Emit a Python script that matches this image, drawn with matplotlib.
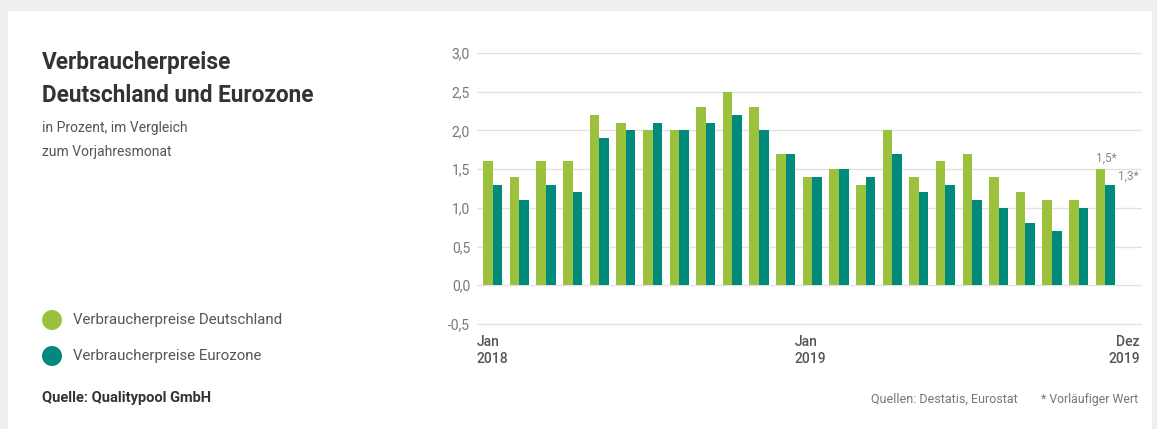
import matplotlib.pyplot as plt
import numpy as np
from matplotlib.patches import Rectangle, Ellipse

plt.rcParams['font.family'] = ['Roboto', 'DejaVu Sans']

# Verbraucherpreise, Veraenderung zum Vorjahresmonat in %
monate = ['Jan 2018', 'Feb 2018', 'Mrz 2018', 'Apr 2018', 'Mai 2018', 'Jun 2018',
          'Jul 2018', 'Aug 2018', 'Sep 2018', 'Okt 2018', 'Nov 2018', 'Dez 2018',
          'Jan 2019', 'Feb 2019', 'Mrz 2019', 'Apr 2019', 'Mai 2019', 'Jun 2019',
          'Jul 2019', 'Aug 2019', 'Sep 2019', 'Okt 2019', 'Nov 2019', 'Dez 2019']
deutschland = [1.6, 1.4, 1.6, 1.6, 2.2, 2.1, 2.0, 2.0, 2.3, 2.5, 2.3, 1.7,
               1.4, 1.5, 1.3, 2.0, 1.4, 1.6, 1.7, 1.4, 1.2, 1.1, 1.1, 1.5]
eurozone = [1.3, 1.1, 1.3, 1.2, 1.9, 2.0, 2.1, 2.0, 2.1, 2.2, 2.0, 1.7,
            1.4, 1.5, 1.4, 1.7, 1.2, 1.3, 1.1, 1.0, 0.8, 0.7, 1.0, 1.3]
y_ticks = [-0.5, 0.0, 0.5, 1.0, 1.5, 2.0, 2.5, 3.0]
x_labels = {'Jan 2018': 'Jan\n2018', 'Jan 2019': 'Jan\n2019', 'Dez 2019': 'Dez\n2019'}

gruen = '#9bc13d'
petrol = '#008a7c'
W, H = 1157, 429

fig = plt.figure(figsize=(W/100, H/100), dpi=100)
fig.patch.set_facecolor('#efefef')
fig.patches.append(Rectangle((8/W, 0), (1152-8)/W, (H-11)/H, transform=fig.transFigure,
                             facecolor='white', edgecolor='none', zorder=-5))

ymin, ymax = -0.52, 3.02
ppu = (324-53)/3.5
top_px = 53 - (ymax-3.0)*ppu
bot_px = 324 + (-0.5-ymin)*ppu
ax = fig.add_axes([477/W, 1-bot_px/H, (1142-477)/W, (bot_px-top_px)/H])
ax.set_facecolor('none')
ax.set_zorder(2)

x = np.arange(len(monate))
bw = 0.36
ax.bar(x-bw/2, deutschland, bw, color=gruen, zorder=3)
ax.bar(x+bw/2, eurozone, bw, color=petrol, zorder=3)

ax.set_xlim(-0.59, 24.38)
ax.set_ylim(ymin, ymax)
ax.set_yticks(y_ticks)
ax.set_yticklabels([f'{v:.1f}'.replace('.', ',') for v in y_ticks])
ax.tick_params(axis='y', length=0, pad=5, labelsize=10, labelcolor='#777777')
ax.set_xticks([])
ax.grid(axis='y', color='#e2e2e2', linewidth=1, zorder=0)
for s in ax.spines.values():
    s.set_visible(False)

# Monatsbeschriftungen
for m, txt in x_labels.items():
    i = monate.index(m)
    if i == 0:
        xp, ha = -0.59, 'left'
    elif i == len(monate)-1:
        xp, ha = 24.3, 'right'
    else:
        xp, ha = i - 0.66, 'left'
    ax.text(xp, -0.64, txt, ha=ha, va='top', fontsize=10, color='#555555',
            fontweight='medium', linespacing=1.3)

# vorlaeufige Werte
ax.annotate(f'{deutschland[-1]:.1f}*'.replace('.', ','), (x[-1]-bw, deutschland[-1]),
            xytext=(0, 3), textcoords='offset points', ha='left', va='bottom',
            fontsize=8.5, color='#888888')
ax.annotate(f'{eurozone[-1]:.1f}*'.replace('.', ','), (x[-1]+bw, eurozone[-1]),
            xytext=(2, 1), textcoords='offset points', ha='left', va='bottom',
            fontsize=8.5, color='#888888')

# Titel und Texte
fig.text(42/W, 1-69/H, 'Verbraucherpreise', fontsize=16.3, fontweight='bold', color='#333333')
fig.text(42/W, 1-102/H, 'Deutschland und Eurozone', fontsize=16.3, fontweight='bold', color='#333333')
fig.text(42/W, 1-132/H, 'in Prozent, im Vergleich', fontsize=10, color='#555555')
fig.text(42/W, 1-156/H, 'zum Vorjahresmonat', fontsize=10, color='#555555')

for yp, col, lab in [(320, gruen, 'Verbraucherpreise Deutschland'),
                     (356, petrol, 'Verbraucherpreise Eurozone')]:
    fig.patches.append(Ellipse((52/W, 1-yp/H), 20/W, 20/H, transform=fig.transFigure,
                               facecolor=col, edgecolor='none'))
    fig.text(73/W, 1-yp/H, lab, fontsize=10.8, color='#555555', va='center')

fig.text(42/W, 1-398/H, 'Quelle: Qualitypool GmbH', fontsize=10.5, fontweight='bold',
         color='#333333', va='center')
fig.text(1018/W, 1-399/H, 'Quellen: Destatis, Eurostat', fontsize=9, color='#777777',
         va='center', ha='right')
fig.text(1138/W, 1-399/H, '* Vorläufiger Wert', fontsize=8.8, color='#777777',
         va='center', ha='right')

fig.savefig('out.png', dpi=100, facecolor=fig.get_facecolor())
